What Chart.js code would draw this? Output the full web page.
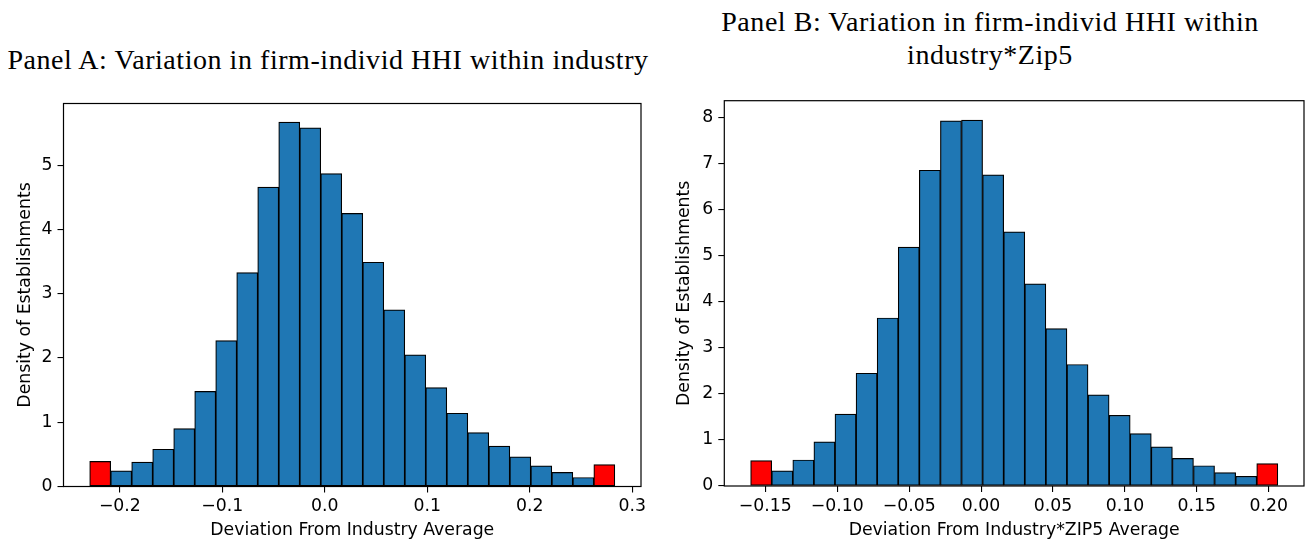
<!DOCTYPE html>
<html>
<head>
<meta charset="utf-8">
<script src="https://cdn.jsdelivr.net/npm/chart.js@4.4.0/dist/chart.umd.min.js"></script>
<style>
  body { margin: 0; background: #fff; width: 1306px; height: 541px; overflow: hidden; position: relative; }
  .ttl { position: absolute; font-family: "Liberation Serif", serif; font-size: 28px; letter-spacing: 0.55px; color: #000;
         white-space: nowrap; text-align: center; line-height: 33px; transform: translateX(-50%); }
  canvas { position: absolute; top: 0; }
</style>
</head>
<body>
<div class="ttl" style="left:328px;top:43px">Panel A: Variation in firm-individ HHI within industry</div>
<div class="ttl" style="left:990px;top:5px">Panel B: Variation in firm-individ HHI within<br>industry*Zip5</div>
<canvas id="histA" width="653" height="541" style="left:0"></canvas>
<canvas id="histB" width="651" height="541" style="left:655px"></canvas>
<script>
// Panel A: deviation from industry average (bin centres, density)
const binsA = [-0.2192, -0.1987, -0.1782, -0.1577, -0.1372, -0.1167, -0.0962, -0.0757, -0.0552, -0.0347,
  -0.0142, 0.0063, 0.0268, 0.0473, 0.0678, 0.0883, 0.1088, 0.1293, 0.1498, 0.1703,
  0.1908, 0.2113, 0.2318, 0.2523, 0.2728];
const densA = [0.39, 0.245, 0.38, 0.58, 0.90, 1.48, 2.27, 3.33, 4.66, 5.67,
  5.58, 4.87, 4.25, 3.49, 2.75, 2.05, 1.54, 1.14, 0.84, 0.63,
  0.46, 0.32, 0.22, 0.14, 0.34];
const xTicksA = [-0.2, -0.1, 0.0, 0.1, 0.2, 0.3];
const yTicksA = [0, 1, 2, 3, 4, 5];

// Panel B: deviation from industry*ZIP5 average
const binsB = [-0.15287, -0.13821, -0.12355, -0.10889, -0.09423, -0.07957, -0.06491, -0.05025, -0.03559, -0.02093,
  -0.00627, 0.00839, 0.02305, 0.03771, 0.05237, 0.06703, 0.08169, 0.09635, 0.11101, 0.12567,
  0.14033, 0.15499, 0.16965, 0.18431, 0.19897];
const densB = [0.55, 0.33, 0.565, 0.96, 1.56, 2.45, 3.65, 5.19, 6.86, 7.93,
  7.95, 6.76, 5.52, 4.39, 3.42, 2.64, 1.98, 1.535, 1.14, 0.85,
  0.60, 0.44, 0.29, 0.21, 0.485];
const xTicksB = [-0.15, -0.10, -0.05, 0.00, 0.05, 0.10, 0.15, 0.20];
const yTicksB = [0, 1, 2, 3, 4, 5, 6, 7, 8];

// first and last bins are the tails, drawn red
const tailBins = [0, 24];

Chart.defaults.font.family = "'DejaVu Sans', sans-serif";
Chart.defaults.font.size = 17.3;
Chart.defaults.color = "#000";

const frame = {
  id: "frame",
  afterDatasetsDraw(chart) {
    const { ctx, chartArea: a } = chart;
    ctx.save();
    ctx.strokeStyle = "#000";
    ctx.lineWidth = 1.2;
    ctx.strokeRect(a.left, a.top, a.right - a.left, a.bottom - a.top);
    ctx.restore();
  }
};

function makeHist(id, bins, dens, xTicks, yTicks, o) {
  const fmt = v => v.toFixed(o.dec).replace("-", "\u2212");
  return new Chart(document.getElementById(id), {
    type: "bar",
    data: {
      datasets: [{
        data: bins.map((x, i) => ({ x, y: dens[i] })),
        backgroundColor: bins.map((_, i) => tailBins.includes(i) ? "#ff0000" : "#1f77b4"),
        borderColor: "#000",
        borderWidth: 1.2,
        borderSkipped: false,
        barPercentage: 1,
        categoryPercentage: 1
      }]
    },
    options: {
      responsive: false,
      animation: false,
      layout: { padding: { top: o.top, right: o.right, left: 0, bottom: 0 } },
      plugins: { legend: { display: false }, tooltip: { enabled: false } },
      scales: {
        x: {
          type: "linear",
          offset: false,
          min: o.xMin, max: o.xMax,
          afterBuildTicks: s => { s.ticks = xTicks.map(v => ({ value: v })); },
          afterFit: s => { s.height = o.xH; },
          ticks: { callback: v => fmt(v), padding: 4, maxRotation: 0, autoSkip: false },
          grid: { offset: false, drawOnChartArea: false, tickLength: 6, color: "#000", lineWidth: 1.1 },
          border: { display: false },
          title: { display: true, text: o.xTitle, padding: { top: 0, bottom: 0 } }
        },
        y: {
          min: 0, max: o.yMax,
          afterBuildTicks: s => { s.ticks = yTicks.map(v => ({ value: v })); },
          afterFit: s => { s.width = o.yW; },
          ticks: { callback: v => String(v), padding: 5 },
          grid: { offset: false, drawOnChartArea: false, tickLength: 6, color: "#000", lineWidth: 1.1 },
          border: { display: false },
          title: { display: true, text: "Density of Establishments", padding: { top: o.yTitlePad, bottom: 0 } }
        }
      }
    },
    plugins: [frame]
  });
}

makeHist("histA", binsA, densA, xTicksA, yTicksA, {
  dec: 1, xMin: -0.255, xMax: 0.3086, yMax: 5.96,
  top: 103.5, right: 12, yW: 63.5, xH: 54.5, yTitlePad: 15,
  xTitle: "Deviation From Industry Average"
});

makeHist("histB", binsB, densB, xTicksB, yTicksB, {
  dec: 2, xMin: -0.1785, xMax: 0.2245, yMax: 8.37,
  top: 100.7, right: 2, yW: 69.3, xH: 55, yTitlePad: 19,
  xTitle: "Deviation From Industry*ZIP5 Average"
});
</script>
</body>
</html>
